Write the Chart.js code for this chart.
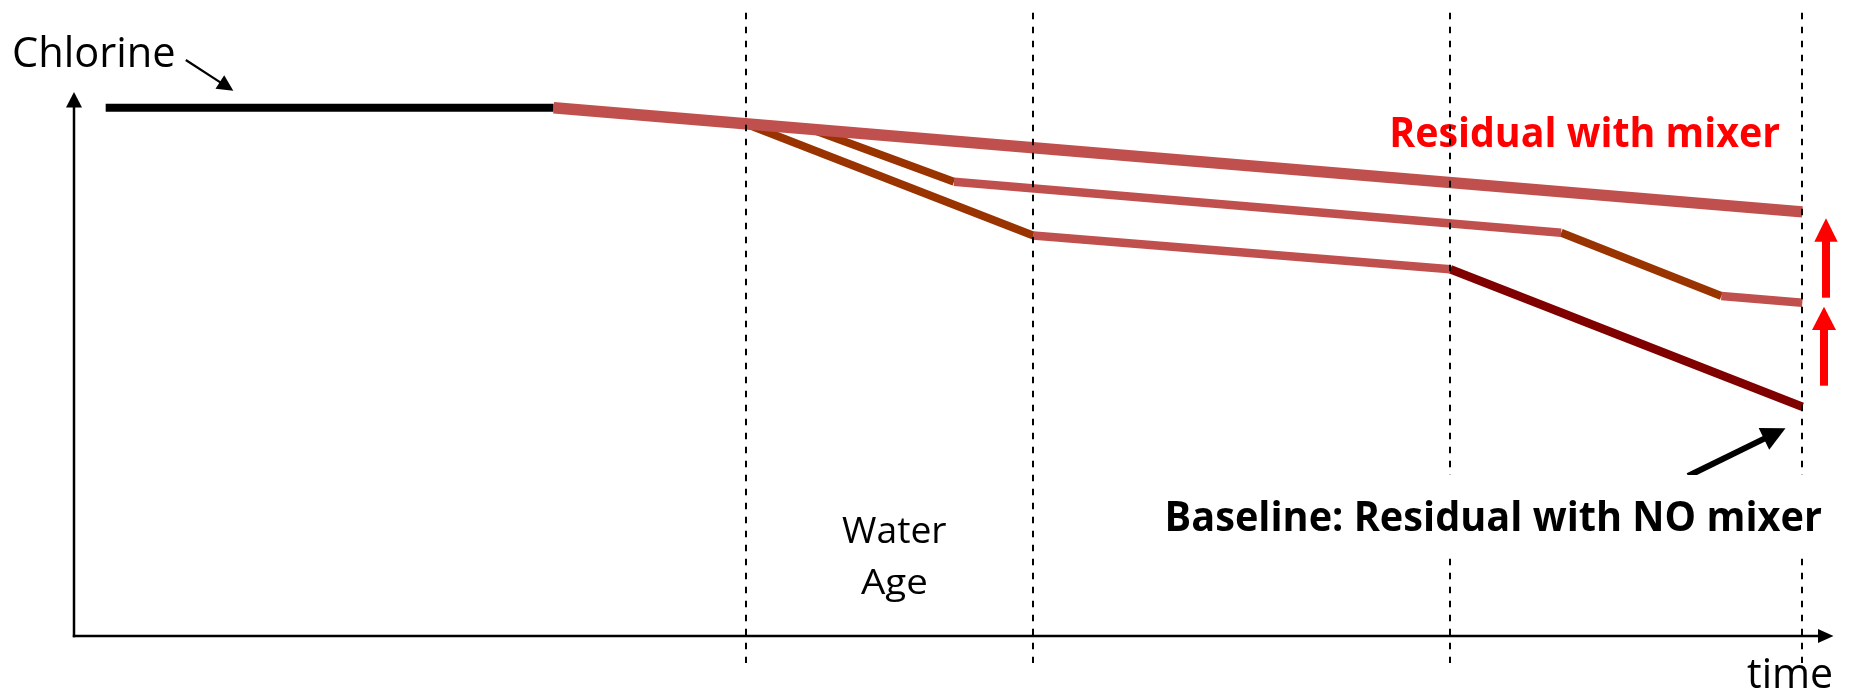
<!DOCTYPE html>
<html>
<head>
<meta charset="utf-8">
<style>
html,body{margin:0;padding:0;background:#fff;}
#wrap{width:1856px;height:694px;}
</style>
<script src="https://cdn.jsdelivr.net/npm/chart.js@4.4.0/dist/chart.umd.min.js"></script>
</head>
<body>
<div id="wrap"><canvas id="c" width="1856" height="694"></canvas></div>
<script>
// ---- data (time in arbitrary units 0..100, chlorine as % of initial) ----
const timeMarkers = [38.2, 54.5, 78.2, 98.2];

const initialT = [1.8, 27.25];
const initialC = [100, 100];

const mixerT = [27.25, 98.2];
const mixerC = [100, 80.3];

const noMixDrop1T = [38.2, 54.5];
const noMixDrop1C = [96.96, 75.83];
const noMixFlatT  = [54.5, 78.2];
const noMixFlatC  = [75.83, 69.43];
const noMixDrop2T = [78.2, 98.2];
const noMixDrop2C = [69.43, 43.41];

const partDrop1T = [41.9, 50.0];
const partDrop1C = [95.93, 86.02];
const partFlat1T = [50.0, 84.5];
const partFlat1C = [86.02, 76.36];
const partDrop2T = [84.5, 93.6];
const partDrop2C = [76.36, 64.37];
const partFlat2T = [93.6, 98.2];
const partFlat2C = [64.37, 63.1];

const labels = {
  yAxis: 'Chlorine',
  xAxis: 'time',
  age: ['Water', 'Age'],
  mixer: 'Residual with mixer',
  baseline: 'Baseline: Residual with NO mixer'
};

const RED = '#C0504D', ORANGE = '#993300', DARK = '#800000';

function pts(t, c) { return t.map((v, i) => ({x: v, y: c[i]})); }
function ds(t, c, color, w) {
  return { data: pts(t, c), borderColor: color, borderWidth: w, pointRadius: 0,
           borderCapStyle: 'butt', borderJoinStyle: 'miter', fill: false, tension: 0 };
}

function arrow(ctx, x1, y1, x2, y2, shaftW, headLen, headHalf, color) {
  const dx = x2 - x1, dy = y2 - y1, L = Math.hypot(dx, dy);
  const ux = dx / L, uy = dy / L, px = -uy, py = ux;
  const bx = x2 - ux * headLen, by = y2 - uy * headLen;
  ctx.save();
  ctx.strokeStyle = color; ctx.fillStyle = color;
  ctx.lineWidth = shaftW; ctx.lineCap = 'butt';
  ctx.beginPath(); ctx.moveTo(x1, y1); ctx.lineTo(bx + ux, by + uy); ctx.stroke();
  ctx.beginPath();
  ctx.moveTo(x2, y2);
  ctx.lineTo(bx + px * headHalf, by + py * headHalf);
  ctx.lineTo(bx - px * headHalf, by - py * headHalf);
  ctx.closePath(); ctx.fill();
  ctx.restore();
}

function fitText(ctx, text, left, baseline, width, capH, weight, color) {
  const size = capH / 0.714;
  ctx.save();
  ctx.font = weight + ' ' + size + 'px "Open Sans", "Noto Sans", sans-serif';
  ctx.textAlign = 'left'; ctx.textBaseline = 'alphabetic';
  const m = ctx.measureText(text);
  const ink = m.actualBoundingBoxRight + m.actualBoundingBoxLeft;
  const sx = width / ink;
  ctx.translate(left, baseline);
  ctx.scale(sx, 1);
  ctx.fillStyle = color;
  ctx.fillText(text, m.actualBoundingBoxLeft, 0);
  ctx.restore();
}

const overlay = {
  id: 'overlay',
  beforeDatasetsDraw(chart) {
    const ctx = chart.ctx, xs = chart.scales.x, ys = chart.scales.y;
    const x0 = xs.getPixelForValue(0), y0 = ys.getPixelForValue(0);
    // axes with arrowheads
    arrow(ctx, x0, y0 + 1.2, x0, ys.getPixelForValue(ys.max), 2.5, 15.5, 8, '#000');
    arrow(ctx, x0 - 1.2, y0, xs.getPixelForValue(xs.max) - 0.5, y0, 2.5, 15.5, 7, '#000');
    // labels
    fitText(ctx, labels.yAxis, 14, 67, 160, 30, 'normal', '#000');
    arrow(ctx, 185.8, 60, 233.3, 90.7, 2.2, 16, 8, '#000');
    fitText(ctx, labels.age[0], 842, 542.7, 105, 25.5, 'normal', '#000');
    fitText(ctx, labels.age[1], 861, 593.5, 65, 25, 'normal', '#000');
    fitText(ctx, labels.xAxis, 1747, 688, 85, 29.5, 'normal', '#000');
    fitText(ctx, labels.mixer, 1392, 147.3, 388, 30, 'bold', '#FF0000');
  },
  afterDatasetsDraw(chart) {
    const ctx = chart.ctx, xs = chart.scales.x, ys = chart.scales.y;
    // dashed time markers
    ctx.save();
    ctx.strokeStyle = '#000'; ctx.lineWidth = 2; ctx.setLineDash([6.5, 7.5]);
    const yTop = ys.getPixelForValue(118), yBot = ys.getPixelForValue(-5.1);
    timeMarkers.forEach(t => {
      const x = Math.round(xs.getPixelForValue(t));
      ctx.beginPath(); ctx.moveTo(x, yTop); ctx.lineTo(x, yBot); ctx.stroke();
    });
    ctx.restore();
    // baseline pointer arrow
    arrow(ctx, 1688, 476, 1785.5, 428.3, 6, 24, 12, '#000');
    // label box
    ctx.save(); ctx.fillStyle = '#fff'; ctx.fillRect(1158, 475, 676, 83); ctx.restore();
    fitText(ctx, labels.baseline, 1167.5, 530.7, 654, 29, 'bold', '#000');
    // red improvement arrows
    arrow(ctx, 1826, 297.7, 1826, 218.3, 8, 23.4, 11.7, '#FF0000');
    arrow(ctx, 1824, 385.7, 1824, 306.7, 8, 23.3, 12, '#FF0000');
  }
};

new Chart(document.getElementById('c'), {
  type: 'line',
  data: {
    datasets: [
      ds(mixerT, mixerC, RED, 11.5),
      ds(initialT, initialC, '#000', 8),
      ds(partFlat1T, partFlat1C, RED, 8.5),
      ds(partFlat2T, partFlat2C, RED, 8.5),
      ds(noMixFlatT, noMixFlatC, RED, 8.5),
      ds(partDrop1T, partDrop1C, ORANGE, 8),
      ds(partDrop2T, partDrop2C, ORANGE, 8),
      ds(noMixDrop1T, noMixDrop1C, ORANGE, 8),
      ds(noMixDrop2T, noMixDrop2C, DARK, 8.5)
    ]
  },
  options: {
    responsive: false,
    devicePixelRatio: 1,
    animation: false,
    layout: { padding: { left: 74, right: 22, top: 92, bottom: 58 } },
    plugins: { legend: { display: false }, tooltip: { enabled: false } },
    scales: {
      x: { type: 'linear', min: 0, max: 100, display: false },
      y: { type: 'linear', min: 0, max: 103, display: false }
    }
  },
  plugins: [overlay]
});
</script>
</body>
</html>
